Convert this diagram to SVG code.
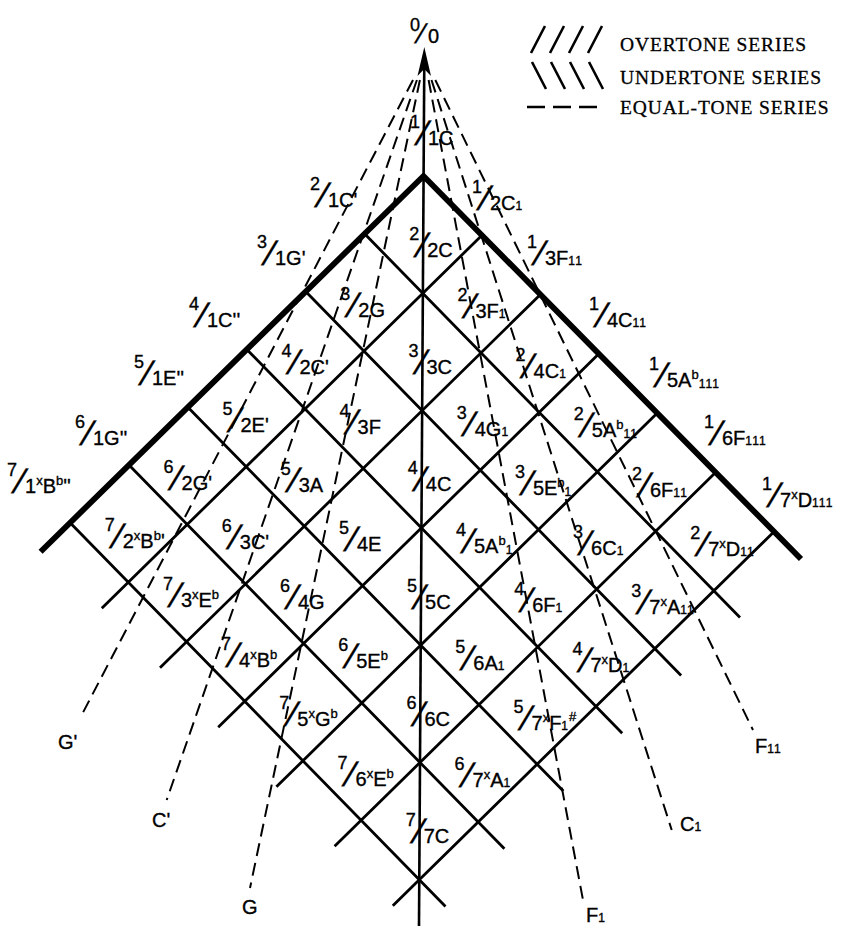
<svg xmlns="http://www.w3.org/2000/svg" width="859" height="930" viewBox="0 0 859 930">
<defs><style>
text{font-family:"Liberation Sans",Arial,sans-serif;fill:#000;stroke:#000;stroke-width:0.35px}
.nu{font-size:18px}
.sl{font-size:34px}
.dn{font-size:20px}
.sb{font-size:12px;letter-spacing:1px}
.sp{font-size:13px}
.lg{font-family:"Liberation Serif","Times New Roman",serif;font-size:19.5px;letter-spacing:0.9px;stroke-width:0.3px}
.grid{stroke:#000;stroke-width:2.8;fill:none}
.thick{stroke:#000;stroke-width:5.8;fill:none;stroke-linejoin:miter}
.axis{stroke:#000;stroke-width:2.6;fill:none}
.eq{stroke:#000;stroke-width:2;stroke-dasharray:13 7;fill:none}
.lgs{stroke:#000;stroke-width:2.6;fill:none}
</style></defs>
<rect width="859" height="930" fill="#fff"/>

<g id="lattice">
<path class="grid" d="M364.6,233.8L740,617.6M305.7,291.6L681.1,675.4M246.8,349.4L622.2,733.2M187.9,407.2L563.3,791M129,465L504.4,848.8M70.1,522.8L445.5,906.6M481.7,235.5L101.8,608.3M539.9,295L160,667.8M598.1,354.5L218.2,727.3M656.3,414L276.4,786.8M714.5,473.5L334.6,846.3M772.7,533L392.8,905.8"/>
<path class="thick" d="M40.6,551.7L423.5,176L801,559"/>
<path class="axis" d="M424.3,60L419,926"/>
<polygon points="424.3,47 417.5,76 424.2,69 431,76" fill="#000"/>
</g>

<g id="connectors">
<path class="eq" d="M413,80L81.7,715"/>
<path class="eq" d="M416.9,80L166.7,800"/>
<path class="eq" d="M419.9,80L250,888"/>
<path class="eq" d="M428.6,80L583,900"/>
<path class="eq" d="M431.5,80L671.7,830"/>
<path class="eq" d="M435.3,80L753,730"/>
</g>

<g id="legend">
<path class="lgs" d="M531,53L545,26M550,53L564,26M569,53L583,26M588,53L602,26M532,62L546,89M551,62L565,89M570,62L584,89M589,62L603,89M527,107L545,107M553,107L571,107M579,107L597,107"/>
<text class="lg" x="620" y="51">OVERTONE SERIES</text>
<text class="lg" x="620" y="84">UNDERTONE SERIES</text>
<text class="lg" x="620" y="114">EQUAL-TONE SERIES</text>
</g>

<g id="n0-0" transform="translate(428,43)"><text class="nu" x="-18" y="-12">0</text><text class="sl" transform="translate(-14,0) skewX(-18) scale(0.8)">/</text><text class="dn">0</text></g>
<g id="n1-1" transform="translate(428,145)"><text class="nu" x="-18" y="-17">1</text><text class="sl" transform="translate(-14,0) skewX(-18)">/</text><text class="dn">1C</text></g>

<g id="n2-1" transform="translate(328,207)"><text class="nu" x="-18" y="-17">2</text><text class="sl" transform="translate(-14,0) skewX(-18)">/</text><text class="dn">1C'</text></g>
<g id="n3-1" transform="translate(275,265)"><text class="nu" x="-18" y="-17">3</text><text class="sl" transform="translate(-14,0) skewX(-18)">/</text><text class="dn">1G'</text></g>
<g id="n4-1" transform="translate(207,327)"><text class="nu" x="-18" y="-17">4</text><text class="sl" transform="translate(-14,0) skewX(-18)">/</text><text class="dn">1C''</text></g>
<g id="n5-1" transform="translate(152,385)"><text class="nu" x="-18" y="-17">5</text><text class="sl" transform="translate(-14,0) skewX(-18)">/</text><text class="dn">1E''</text></g>
<g id="n6-1" transform="translate(93,445)"><text class="nu" x="-18" y="-17">6</text><text class="sl" transform="translate(-14,0) skewX(-18)">/</text><text class="dn">1G''</text></g>
<g id="n7-1" transform="translate(25,493)"><text class="nu" x="-18" y="-17">7</text><text class="sl" transform="translate(-14,0) skewX(-18)">/</text><text class="dn">1<tspan class="sp" dy="-8">x</tspan><tspan dy="8">B</tspan><tspan class="sp" dy="-8">b</tspan><tspan dy="8">''</tspan></text></g>

<g id="n1-2" transform="translate(490,210)"><text class="nu" x="-18" y="-17">1</text><text class="sl" transform="translate(-14,0) skewX(-18)">/</text><text class="dn">2C<tspan class="sb">1</tspan></text></g>
<g id="n1-3" transform="translate(545,265)"><text class="nu" x="-18" y="-17">1</text><text class="sl" transform="translate(-14,0) skewX(-18)">/</text><text class="dn">3F<tspan class="sb">11</tspan></text></g>
<g id="n1-4" transform="translate(607,327)"><text class="nu" x="-18" y="-17">1</text><text class="sl" transform="translate(-14,0) skewX(-18)">/</text><text class="dn">4C<tspan class="sb">11</tspan></text></g>
<g id="n1-5" transform="translate(667,387)"><text class="nu" x="-18" y="-17">1</text><text class="sl" transform="translate(-14,0) skewX(-18)">/</text><text class="dn">5A<tspan class="sp" dy="-8">b</tspan><tspan class="sb" dy="9">111</tspan></text></g>
<g id="n1-6" transform="translate(722,445)"><text class="nu" x="-18" y="-17">1</text><text class="sl" transform="translate(-14,0) skewX(-18)">/</text><text class="dn">6F<tspan class="sb">111</tspan></text></g>
<g id="n1-7" transform="translate(780,507)"><text class="nu" x="-18" y="-17">1</text><text class="sl" transform="translate(-14,0) skewX(-18)">/</text><text class="dn">7<tspan class="sp" dy="-8">x</tspan><tspan dy="8">D</tspan><tspan class="sb">111</tspan></text></g>

<g id="n2-2" transform="translate(427.2,256.7)"><text class="nu" x="-18" y="-17">2</text><text class="sl" transform="translate(-14,0) skewX(-18)">/</text><text class="dn">2C</text></g>
<g id="n2-3" transform="translate(475.4,318.2)"><text class="nu" x="-18" y="-17">2</text><text class="sl" transform="translate(-14,0) skewX(-18)">/</text><text class="dn">3F<tspan class="sb">1</tspan></text></g>
<g id="n2-4" transform="translate(533.6,377.7)"><text class="nu" x="-18" y="-17">2</text><text class="sl" transform="translate(-14,0) skewX(-18)">/</text><text class="dn">4C<tspan class="sb">1</tspan></text></g>
<g id="n2-5" transform="translate(591.8,437.2)"><text class="nu" x="-18" y="-17">2</text><text class="sl" transform="translate(-14,0) skewX(-18)">/</text><text class="dn">5A<tspan class="sp" dy="-8">b</tspan><tspan class="sb" dy="9">11</tspan></text></g>
<g id="n2-6" transform="translate(650,496.7)"><text class="nu" x="-18" y="-17">2</text><text class="sl" transform="translate(-14,0) skewX(-18)">/</text><text class="dn">6F<tspan class="sb">11</tspan></text></g>
<g id="n2-7" transform="translate(708.2,556.2)"><text class="nu" x="-18" y="-17">2</text><text class="sl" transform="translate(-14,0) skewX(-18)">/</text><text class="dn">7<tspan class="sp" dy="-8">x</tspan><tspan dy="8">D</tspan><tspan class="sb">11</tspan></text></g>

<g id="n3-2" transform="translate(358.3,316.5)"><text class="nu" x="-18" y="-17">3</text><text class="sl" transform="translate(-14,0) skewX(-18)">/</text><text class="dn">2G</text></g>
<g id="n3-3" transform="translate(426.5,374)"><text class="nu" x="-18" y="-17">3</text><text class="sl" transform="translate(-14,0) skewX(-18)">/</text><text class="dn">3C</text></g>
<g id="n3-4" transform="translate(474.7,435.5)"><text class="nu" x="-18" y="-17">3</text><text class="sl" transform="translate(-14,0) skewX(-18)">/</text><text class="dn">4G<tspan class="sb">1</tspan></text></g>
<g id="n3-5" transform="translate(532.9,495)"><text class="nu" x="-18" y="-17">3</text><text class="sl" transform="translate(-14,0) skewX(-18)">/</text><text class="dn">5E<tspan class="sp" dy="-8">b</tspan><tspan class="sb" dy="9">1</tspan></text></g>
<g id="n3-6" transform="translate(591.1,554.5)"><text class="nu" x="-18" y="-17">3</text><text class="sl" transform="translate(-14,0) skewX(-18)">/</text><text class="dn">6C<tspan class="sb">1</tspan></text></g>
<g id="n3-7" transform="translate(649.3,614)"><text class="nu" x="-18" y="-17">3</text><text class="sl" transform="translate(-14,0) skewX(-18)">/</text><text class="dn">7<tspan class="sp" dy="-8">x</tspan><tspan dy="8">A</tspan><tspan class="sb">11</tspan></text></g>

<g id="n4-2" transform="translate(299.4,374.3)"><text class="nu" x="-18" y="-17">4</text><text class="sl" transform="translate(-14,0) skewX(-18)">/</text><text class="dn">2C'</text></g>
<g id="n4-3" transform="translate(357.6,433.8)"><text class="nu" x="-18" y="-17">4</text><text class="sl" transform="translate(-14,0) skewX(-18)">/</text><text class="dn">3F</text></g>
<g id="n4-4" transform="translate(425.8,491.3)"><text class="nu" x="-18" y="-17">4</text><text class="sl" transform="translate(-14,0) skewX(-18)">/</text><text class="dn">4C</text></g>
<g id="n4-5" transform="translate(474,552.8)"><text class="nu" x="-18" y="-17">4</text><text class="sl" transform="translate(-14,0) skewX(-18)">/</text><text class="dn">5A<tspan class="sp" dy="-8">b</tspan><tspan class="sb" dy="9">1</tspan></text></g>
<g id="n4-6" transform="translate(532.2,612.3)"><text class="nu" x="-18" y="-17">4</text><text class="sl" transform="translate(-14,0) skewX(-18)">/</text><text class="dn">6F<tspan class="sb">1</tspan></text></g>
<g id="n4-7" transform="translate(590.4,671.8)"><text class="nu" x="-18" y="-17">4</text><text class="sl" transform="translate(-14,0) skewX(-18)">/</text><text class="dn">7<tspan class="sp" dy="-8">x</tspan><tspan dy="8">D</tspan><tspan class="sb">1</tspan></text></g>

<g id="n5-2" transform="translate(240.5,432.1)"><text class="nu" x="-18" y="-17">5</text><text class="sl" transform="translate(-14,0) skewX(-18)">/</text><text class="dn">2E'</text></g>
<g id="n5-3" transform="translate(298.7,491.6)"><text class="nu" x="-18" y="-17">5</text><text class="sl" transform="translate(-14,0) skewX(-18)">/</text><text class="dn">3A</text></g>
<g id="n5-4" transform="translate(356.9,551.1)"><text class="nu" x="-18" y="-17">5</text><text class="sl" transform="translate(-14,0) skewX(-18)">/</text><text class="dn">4E</text></g>
<g id="n5-5" transform="translate(425.1,608.6)"><text class="nu" x="-18" y="-17">5</text><text class="sl" transform="translate(-14,0) skewX(-18)">/</text><text class="dn">5C</text></g>
<g id="n5-6" transform="translate(473.3,670.1)"><text class="nu" x="-18" y="-17">5</text><text class="sl" transform="translate(-14,0) skewX(-18)">/</text><text class="dn">6A<tspan class="sb">1</tspan></text></g>
<g id="n5-7" transform="translate(531.5,729.6)"><text class="nu" x="-18" y="-17">5</text><text class="sl" transform="translate(-14,0) skewX(-18)">/</text><text class="dn">7<tspan class="sp" dy="-8">x</tspan><tspan dy="8">F</tspan><tspan class="sb">1</tspan><tspan class="sp" dy="-9">#</tspan></text></g>

<g id="n6-2" transform="translate(181.6,489.9)"><text class="nu" x="-18" y="-17">6</text><text class="sl" transform="translate(-14,0) skewX(-18)">/</text><text class="dn">2G'</text></g>
<g id="n6-3" transform="translate(239.8,549.4)"><text class="nu" x="-18" y="-17">6</text><text class="sl" transform="translate(-14,0) skewX(-18)">/</text><text class="dn">3C'</text></g>
<g id="n6-4" transform="translate(298,608.9)"><text class="nu" x="-18" y="-17">6</text><text class="sl" transform="translate(-14,0) skewX(-18)">/</text><text class="dn">4G</text></g>
<g id="n6-5" transform="translate(356.2,668.4)"><text class="nu" x="-18" y="-17">6</text><text class="sl" transform="translate(-14,0) skewX(-18)">/</text><text class="dn">5E<tspan class="sp" dy="-8">b</tspan></text></g>
<g id="n6-6" transform="translate(424.4,725.9)"><text class="nu" x="-18" y="-17">6</text><text class="sl" transform="translate(-14,0) skewX(-18)">/</text><text class="dn">6C</text></g>
<g id="n6-7" transform="translate(472.6,787.4)"><text class="nu" x="-18" y="-17">6</text><text class="sl" transform="translate(-14,0) skewX(-18)">/</text><text class="dn">7<tspan class="sp" dy="-8">x</tspan><tspan dy="8">A</tspan><tspan class="sb">1</tspan></text></g>

<g id="n7-2" transform="translate(122.7,547.7)"><text class="nu" x="-18" y="-17">7</text><text class="sl" transform="translate(-14,0) skewX(-18)">/</text><text class="dn">2<tspan class="sp" dy="-8">x</tspan><tspan dy="8">B</tspan><tspan class="sp" dy="-8">b</tspan><tspan dy="8">'</tspan></text></g>
<g id="n7-3" transform="translate(180.9,607.2)"><text class="nu" x="-18" y="-17">7</text><text class="sl" transform="translate(-14,0) skewX(-18)">/</text><text class="dn">3<tspan class="sp" dy="-8">x</tspan><tspan dy="8">E</tspan><tspan class="sp" dy="-8">b</tspan></text></g>
<g id="n7-4" transform="translate(239.1,666.7)"><text class="nu" x="-18" y="-17">7</text><text class="sl" transform="translate(-14,0) skewX(-18)">/</text><text class="dn">4<tspan class="sp" dy="-8">x</tspan><tspan dy="8">B</tspan><tspan class="sp" dy="-8">b</tspan></text></g>
<g id="n7-5" transform="translate(297.3,726.2)"><text class="nu" x="-18" y="-17">7</text><text class="sl" transform="translate(-14,0) skewX(-18)">/</text><text class="dn">5<tspan class="sp" dy="-8">x</tspan><tspan dy="8">G</tspan><tspan class="sp" dy="-8">b</tspan></text></g>
<g id="n7-6" transform="translate(355.5,785.7)"><text class="nu" x="-18" y="-17">7</text><text class="sl" transform="translate(-14,0) skewX(-18)">/</text><text class="dn">6<tspan class="sp" dy="-8">x</tspan><tspan dy="8">E</tspan><tspan class="sp" dy="-8">b</tspan></text></g>
<g id="n7-7" transform="translate(423.7,843.2)"><text class="nu" x="-18" y="-17">7</text><text class="sl" transform="translate(-14,0) skewX(-18)">/</text><text class="dn">7C</text></g>

<g id="tone-labels">
<text class="dn" x="58" y="749">G'</text>
<text class="dn" x="152" y="827">C'</text>
<text class="dn" x="242" y="914">G</text>
<text class="dn" x="586" y="922">F<tspan class="sb">1</tspan></text>
<text class="dn" x="680" y="831">C<tspan class="sb">1</tspan></text>
<text class="dn" x="755" y="753">F<tspan class="sb">11</tspan></text>
</g>
</svg>
